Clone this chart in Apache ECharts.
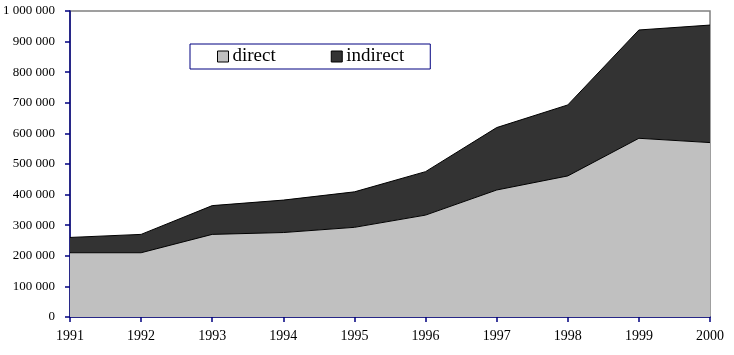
<!DOCTYPE html>
<html>
<head>
<meta charset="utf-8">
<script src="https://cdn.jsdelivr.net/npm/echarts@6/dist/echarts.min.js"></script>
<style>html,body{margin:0;padding:0;background:#fff}#c{width:734px;height:355px}</style>
</head>
<body>
<div id="c"></div>
<script>
var years = ['1991','1992','1993','1994','1995','1996','1997','1998','1999','2000'];
var direct = [210000, 210000, 270000, 276000, 293000, 333000, 415000, 461000, 584000, 570000];
var indirect = [50000, 60000, 94000, 106000, 116000, 142000, 204000, 232000, 354000, 384000];
var seriesNames = ['direct', 'indirect'];

function fmt(v) {
  return String(v).replace(/\B(?=(\d{3})+(?!\d))/g, ' ');
}

var chart = echarts.init(document.getElementById('c'), null, {renderer: 'canvas'});
chart.setOption({
  animation: false,
  backgroundColor: '#fff',
  textStyle: {fontFamily: 'Liberation Serif'},
  grid: {left: 70, right: 24, top: 11, bottom: 38, show: true, borderColor: '#808080', borderWidth: 1.5, backgroundColor: 'transparent'},
  legend: {
    left: 190, top: 44,
    padding: [3, 26, 3, 27],
    itemGap: 55,
    itemWidth: 11, itemHeight: 11,
    icon: 'rect',
    borderColor: '#000080', borderWidth: 1,
    textStyle: {fontFamily: 'Liberation Serif', fontSize: 19, color: '#000', padding: [0, 0, 0, -1]},
    itemStyle: {borderColor: '#000', borderWidth: 1},
    data: seriesNames
  },
  xAxis: {
    type: 'category', data: years, boundaryGap: false,
    axisLine: {lineStyle: {color: '#000080', width: 1.5}},
    axisTick: {show: true, length: 5, lineStyle: {color: '#000080', width: 1.5}},
    axisLabel: {color: '#000', fontSize: 14, margin: 12, fontFamily: 'Liberation Serif'},
    splitLine: {show: false}
  },
  yAxis: {
    type: 'value', min: 0, max: 1000000, interval: 100000,
    axisLine: {show: true, lineStyle: {color: '#000080', width: 1.5}},
    axisTick: {show: true, length: 5, lineStyle: {color: '#000080', width: 1.5}},
    axisLabel: {color: '#000', fontSize: 13, margin: 15, fontFamily: 'Liberation Serif', formatter: fmt},
    splitLine: {show: false}
  },
  series: [
    {
      name: seriesNames[0], type: 'line', stack: 'total', data: direct,
      symbol: 'none', lineStyle: {color: '#000', width: 1},
      areaStyle: {color: '#C0C0C0', opacity: 1},
      itemStyle: {color: '#C0C0C0'}, z: 2
    },
    {
      name: seriesNames[1], type: 'line', stack: 'total', data: indirect,
      symbol: 'none', lineStyle: {color: '#000', width: 1},
      areaStyle: {color: '#333333', opacity: 1},
      itemStyle: {color: '#333333'}, z: 2
    }
  ]
});
</script>
</body>
</html>
